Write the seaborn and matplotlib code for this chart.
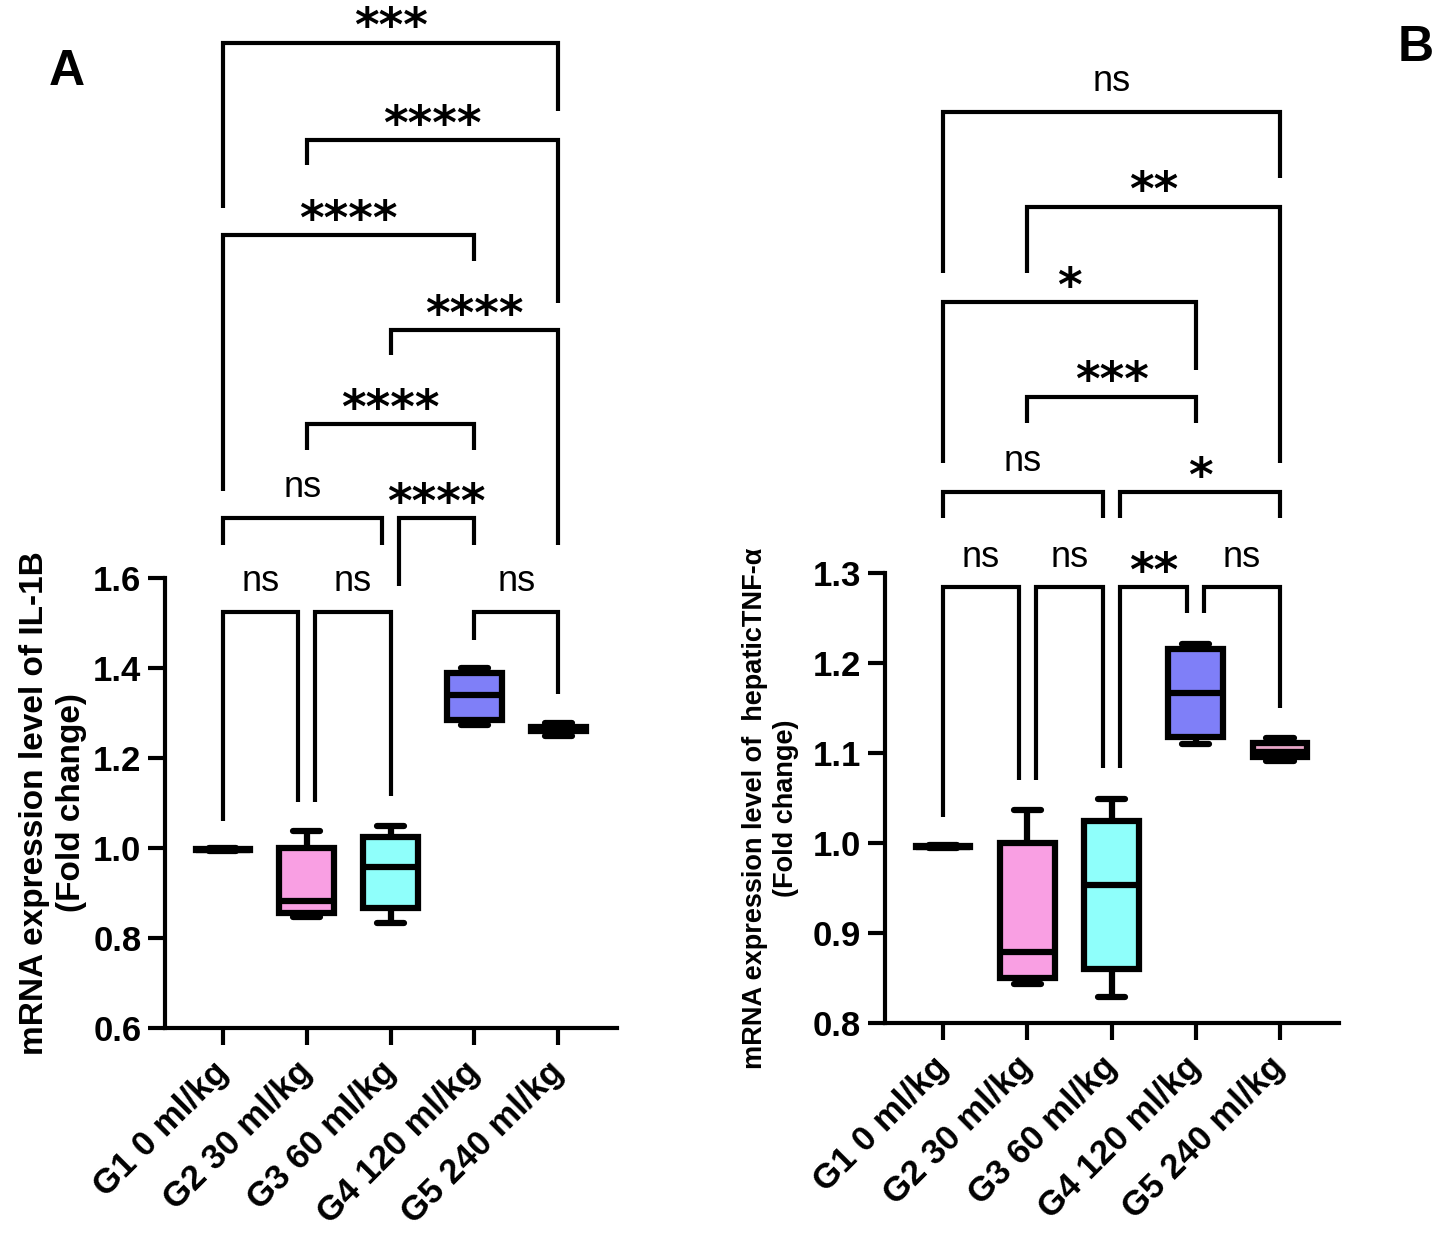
import matplotlib
import matplotlib.pyplot as plt
import pandas as pd
import seaborn as sns

matplotlib.use('Agg')

groups = ['G1 0 ml/kg', 'G2 30 ml/kg', 'G3 60 ml/kg', 'G4 120 ml/kg', 'G5 240 ml/kg']
colors = ['#ffffff', '#f99fe3', '#8ffffb', '#7f7ff8', '#e8a6c8']

il1b_g1 = [0.993, 0.995, 0.996, 0.997, 0.999]
il1b_g2 = [0.847, 0.856, 0.882, 1.000, 1.038]
il1b_g3 = [0.833, 0.867, 0.958, 1.024, 1.049]
il1b_g4 = [1.273, 1.284, 1.340, 1.389, 1.400]
il1b_g5 = [1.249, 1.260, 1.264, 1.269, 1.278]

tnf_g1 = [0.994, 0.995, 0.996, 0.997, 0.998]
tnf_g2 = [0.843, 0.850, 0.879, 1.000, 1.037]
tnf_g3 = [0.829, 0.860, 0.953, 1.024, 1.049]
tnf_g4 = [1.110, 1.118, 1.167, 1.216, 1.221]
tnf_g5 = [1.091, 1.096, 1.101, 1.111, 1.117]

# significance brackets: group pairs, bar height, leg ends, label
pairs_a = [(0, 4), (1, 4), (0, 3), (2, 4), (1, 3), (0, 2), (2, 3), (0, 1), (1, 2), (3, 4)]
heights_a = [2.789, 2.573, 2.362, 2.151, 1.942, 1.733, 1.733, 1.524, 1.524, 1.524]
legs_a = [(2.422, 2.638), (2.518, 2.211), (1.793, 2.304), (2.096, 1.673), (1.884, 1.884),
          (1.673, 1.673), (1.582, 1.673), (1.060, 1.102), (1.102, 1.116), (1.462, 1.342)]
labels_a = ['***', '****', '****', '****', '****', 'ns', '****', 'ns', 'ns', 'ns']

pairs_b = [(0, 4), (1, 4), (0, 3), (1, 3), (0, 2), (2, 4), (0, 1), (1, 2), (2, 3), (3, 4)]
heights_b = [1.812, 1.707, 1.601, 1.496, 1.390, 1.390, 1.284, 1.284, 1.284, 1.284]
legs_b = [(1.633, 1.739), (1.633, 1.422), (1.422, 1.526), (1.467, 1.467), (1.361, 1.361),
          (1.361, 1.361), (1.029, 1.070), (1.070, 1.083), (1.083, 1.256), (1.256, 1.150)]
labels_b = ['ns', '**', '*', '***', 'ns', '*', 'ns', 'ns', '**', 'ns']

sns.set_style('ticks')
plt.rcParams['font.family'] = ['Liberation Sans', 'DejaVu Sans']
plt.rcParams['text.color'] = 'black'
plt.rcParams['axes.labelcolor'] = 'black'
plt.rcParams['xtick.color'] = 'black'
plt.rcParams['ytick.color'] = 'black'


def make_frame(values):
    rows = []
    for name, vals in zip(groups, values):
        for v in vals:
            rows.append({'group': name, 'value': v})
    return pd.DataFrame(rows)


def add_brackets(ax, pairs, heights, legs, labels):
    for i, (a, b) in enumerate(pairs):
        x1, x2 = float(a), float(b)
        # shift ends that touch a neighbouring bracket on the same row
        for j, (c, d) in enumerate(pairs):
            if j == i or heights[j] != heights[i]:
                continue
            if d == a:
                x1 += 0.1
            if c == b:
                x2 -= 0.1
        h = heights[i]
        ax.plot([x1, x1, x2, x2], [legs[i][0], h, h, legs[i][1]], color='black', lw=3,
                clip_on=False, solid_joinstyle='miter', solid_capstyle='butt')
        if labels[i] == 'ns':
            ax.annotate('ns', xy=((x1 + x2) / 2, h), xytext=(0, 15), textcoords='offset points',
                        ha='center', va='baseline', fontsize=26, annotation_clip=False)
        else:
            ax.annotate(labels[i], xy=((x1 + x2) / 2, h), xytext=(0, 1), textcoords='offset points',
                        ha='center', va='baseline', fontsize=34, fontweight='bold',
                        family='DejaVu Sans', annotation_clip=False)


def draw_panel(ax, df, ylim, yticks, ylabel, label_size, label_x, label_y):
    sns.boxplot(data=df, x='group', y='value', hue='group', order=groups, hue_order=groups,
                palette=colors, saturation=1, whis=(0, 100), width=0.65, linewidth=4.5,
                linecolor='black', legend=False, ax=ax)
    ax.set_ylim(*ylim)
    ax.set_yticks(yticks)
    ax.set_yticklabels([f'{t:.1f}' for t in yticks], fontweight='bold')
    ax.set_xlim(-0.69, 4.70)
    ax.set_xticks(range(len(groups)))
    ax.set_xticklabels(groups, rotation=45, ha='right', va='center', rotation_mode='anchor',
                       fontweight='bold')
    ax.tick_params(axis='both', labelsize=25, width=3, length=12, color='black')
    ax.tick_params(axis='y', pad=5)
    ax.tick_params(axis='x', pad=16)
    ax.set_xlabel('')
    ax.set_ylabel(ylabel, fontsize=label_size, fontweight='bold', linespacing=1.25)
    ax.yaxis.set_label_coords(label_x, label_y)
    sns.despine(ax=ax)
    for side in ['left', 'bottom']:
        ax.spines[side].set_linewidth(3)
        ax.spines[side].set_color('black')


fig = plt.figure(figsize=(14.41, 12.37), dpi=100)
ax_a = fig.add_axes([0.1145, 0.1690, 0.3137, 0.3638])
ax_b = fig.add_axes([0.6141, 0.1730, 0.3151, 0.3638])

df_a = make_frame([il1b_g1, il1b_g2, il1b_g3, il1b_g4, il1b_g5])
df_b = make_frame([tnf_g1, tnf_g2, tnf_g3, tnf_g4, tnf_g5])

draw_panel(ax_a, df_a, (0.6, 1.6), [0.6, 0.8, 1.0, 1.2, 1.4, 1.6],
           'mRNA expression level of IL-1B\n(Fold change)', 24, -0.172, 0.5)
draw_panel(ax_b, df_b, (0.8, 1.3), [0.8, 0.9, 1.0, 1.1, 1.2, 1.3],
           'mRNA expression level of  hepaticTNF-α\n(Fold change)', 19.5, -0.19, 0.478)

add_brackets(ax_a, pairs_a, heights_a, legs_a, labels_a)
add_brackets(ax_b, pairs_b, heights_b, legs_b, labels_b)

fig.text(0.0465, 0.942, 'A', fontsize=36, fontweight='bold', ha='center', va='center')
fig.text(0.9827, 0.961, 'B', fontsize=36, fontweight='bold', ha='center', va='center')

plt.savefig('out.png', dpi=100)
plt.close(fig)
